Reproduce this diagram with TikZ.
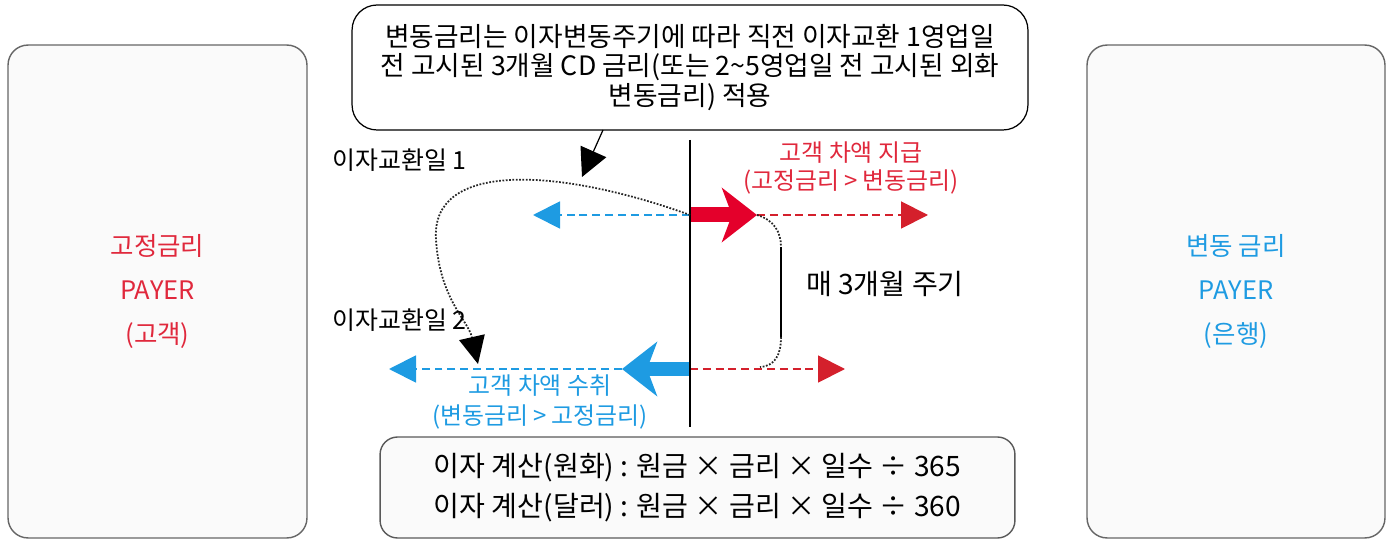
\documentclass[tikz,border=0pt]{standalone}
\usepackage{fontspec}
\setmainfont{Noto Sans CJK KR}
\usetikzlibrary{arrows.meta}

\definecolor{fixred}{HTML}{E4002B}
\definecolor{dashred}{HTML}{D4202C}
\definecolor{textred}{HTML}{E0283C}
\definecolor{floatblue}{HTML}{1E9BE2}
\definecolor{boxgray}{HTML}{FAFAFA}

\tikzset{
  partybox/.style={draw=black!60, fill=boxgray, line width=0.8pt, rounded corners=0.4cm,
    align=center, font=\fontsize{14.5}{25}\selectfont},
  notebox/.style={draw=black, fill=white, line width=0.7pt, rounded corners=0.5cm,
    align=center, font=\fontsize{15.2}{17}\selectfont},
  calcbox/.style={draw=black!65, fill=boxgray, line width=0.8pt, rounded corners=0.35cm,
    align=center, font=\fontsize{16}{22.8}\selectfont},
  dashline/.style={dash pattern=on 4.5pt off 2.8pt, line width=1.1pt,
    -{Triangle[length=0.54cm, width=0.54cm]}},
  blockarrow/.style={line width=0.3cm, -{Stealth[length=0.7cm, width=1.08cm, inset=0.2cm]}},
  loopline/.style={black!85, line width=1pt, dash pattern=on 1pt off 0.9pt}
}

\begin{document}
\begin{tikzpicture}[x=0.02cm, y=-0.02cm]
  \useasboundingbox (0,0) rectangle (1392,540);

  % 거래 당사자
  \node[partybox, minimum width=5.98cm, minimum height=9.86cm, text=textred] (fixed) at (157.5,291.5) {고정금리\\PAYER\\(고객)};
  \node[partybox, minimum width=5.96cm, minimum height=9.86cm, text=floatblue] (float) at (1236,291.5) {변동 금리\\PAYER\\(은행)};

  % 설명 상자
  \node[notebox, minimum width=13.52cm, minimum height=2.5cm] (note) at (690,67.5)
    {변동금리는 이자변동주기에 따라 직전 이자교환 1영업일\\전 고시된 3개월 CD 금리(또는 2{\char`\~}5영업일 전 고시된 외화\\변동금리) 적용};
  \node[calcbox, minimum width=12.7cm, minimum height=2.02cm] (calc) at (697.5,487.5)
    {이자 계산(원화) : 원금 × 금리 × 일수 ÷ 365\\이자 계산(달러) : 원금 × 금리 × 일수 ÷ 360};

  % 좌표
  \coordinate (axtop) at (690,140);
  \coordinate (axbot) at (690,427);
  \coordinate (d1) at (690,215);
  \coordinate (d2) at (690,369);
  \coordinate (payTip) at (757,215);
  \coordinate (payEnd) at (928,215);
  \coordinate (payEnd2) at (845,369);
  \coordinate (recvL) at (533,215);
  \coordinate (recvTip) at (622,369);
  \coordinate (recvEnd) at (389,369);
  \coordinate (brA) at (781,247);
  \coordinate (brB) at (781,337);
  \coordinate (brEnd) at (760,367);
  \coordinate (ptrStart) at (603,130);
  \coordinate (ptrTip) at (582,177);
  \coordinate (loopEnd) at (478,364);

  % 점선 화살표
  \draw[dashline, floatblue] (d1) -- (recvL);
  \draw[dashline, dashred] (payTip) -- (payEnd);
  \draw[dashline, floatblue] (recvTip) -- (recvEnd);
  \draw[dashline, dashred] (d2) -- (payEnd2);

  % 굵은 화살표
  \draw[blockarrow, fixred] (d1) -- (payTip);
  \draw[blockarrow, floatblue] (d2) -- (recvTip);

  % 기준선
  \draw[line width=0.8pt] (axtop) -- (axbot);

  % 이자교환 주기
  \draw[loopline, -{Triangle[length=0.55cm, width=0.52cm, color=black]}] (d1) .. controls (560,168) and (430,160) .. (436,240)
    .. controls (440,300) and (468,320) .. (loopEnd);
  \draw[loopline] (payTip) .. controls (774,220) and (781,232) .. (brA);
  \draw[line width=0.9pt] (brA) -- (brB);
  \draw[loopline] (brB) .. controls (781,355) and (775,366) .. (brEnd);
  \draw[line width=0.7pt, -{Triangle[length=0.56cm, width=0.56cm]}] (ptrStart) -- (ptrTip);

  % 글자
  \node[anchor=west, font=\fontsize{14.2}{16}\selectfont] (day1) at (326,160) {이자교환일 1};
  \node[anchor=west, font=\fontsize{14.2}{16}\selectfont] (day2) at (326,320) {이자교환일 2};
  \node[anchor=west, font=\fontsize{16}{18}\selectfont] (cycle) at (800,284) {매 3개월 주기};
  \node[align=center, text=textred, font=\fontsize{13.6}{16}\selectfont] (paytxt) at (851,168) {고객 차액 지급\\(고정금리 > 변동금리)};
  \node[align=center, text=floatblue, font=\fontsize{13.6}{17.5}\selectfont] (recvtxt) at (540,402) {고객 차액 수취\\(변동금리 > 고정금리)};
\end{tikzpicture}
\end{document}
